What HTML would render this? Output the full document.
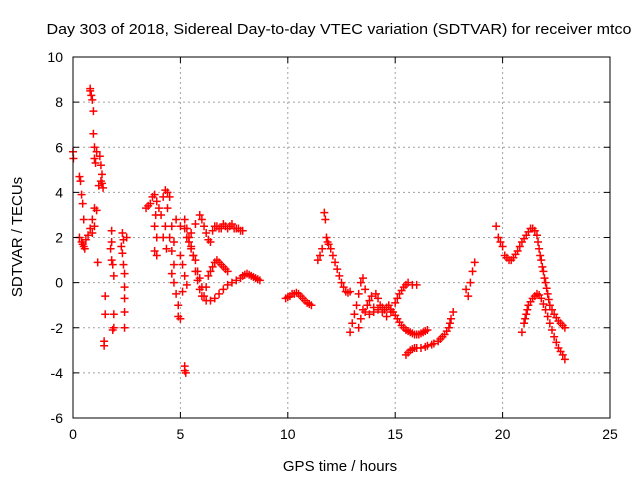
<!DOCTYPE html>
<html><head><meta charset="utf-8"><style>
body{margin:0;background:#fff}
svg{display:block;font-family:"Liberation Sans",sans-serif}
</style></head><body>
<svg id="c" width="640" height="480">
<g id="grid"></g>
<g id="marks"></g>
<rect x="73" y="57" width="537" height="361" fill="none" stroke="#000" stroke-width="1"/>
<g id="ticks"></g>
<text x="339" y="34" text-anchor="middle" font-size="15" textLength="585" lengthAdjust="spacingAndGlyphs">Day 303 of 2018, Sidereal Day-to-day VTEC variation (SDTVAR) for receiver mtco</text>
<text x="340" y="471" text-anchor="middle" font-size="15">GPS time / hours</text>
<text transform="translate(22,237) rotate(-90)" text-anchor="middle" font-size="15">SDTVAR / TECUs</text>
</svg>
<script>
const xTicks=[0,5,10,15,20,25];
const yTicks=[-6,-4,-2,0,2,4,6,8,10];
const early=[[0,5.8],[0.02,5.5],[0.3,4.7],[0.35,4.5],[0.4,3.9],[0.45,3.5],[0.5,2.8],[0.3,2.0],[0.4,1.8],[0.5,1.6],[0.6,1.9],[0.7,2.1],[0.8,2.4],[0.9,2.8],[1.0,3.3],[1.1,3.2],[1.0,2.5],[0.9,2.2],[0.45,1.7],[0.55,1.5],[0.8,8.5],[0.85,8.3],[0.9,8.1],[0.8,8.6],[0.95,7.6],[0.95,6.6],[1.0,6.0],[1.0,5.5],[1.05,5.3],[1.1,5.8],[1.25,5.6],[1.3,5.2],[1.35,4.8],[1.3,4.5],[1.4,4.2],[1.35,4.4],[1.2,4.3],[1.15,0.9],[1.5,-0.6],[1.5,-1.4],[1.45,-2.6],[1.45,-2.8],[1.8,1.8],[1.75,1.5],[1.8,1.0],[1.85,0.8],[1.8,2.3],[1.9,0.3],[1.9,-1.4],[1.85,-2.1],[1.9,-2.0],[2.3,2.2],[2.25,1.6],[2.3,1.3],[2.35,0.8],[2.4,0.4],[2.4,-0.2],[2.4,-0.7],[2.4,-1.3],[2.4,-2.0],[2.5,2.0],[2.35,1.9]];
const cluster=[[3.4,3.3],[3.5,3.4],[3.6,3.5],[3.7,3.8],[3.8,3.9],[3.9,3.6],[4.0,3.3],[3.8,2.5],[3.85,3.0],[3.9,2.0],[3.8,1.4],[3.9,1.2],[4.1,3.0],[4.2,3.8],[4.3,4.1],[4.4,4.0],[4.5,3.8],[4.4,3.3],[4.3,2.5],[4.2,2.0],[4.35,1.5],[4.6,2.5],[4.5,2.0],[4.6,1.4],[4.7,0.8],[4.6,0.4],[4.7,0.0],[4.8,-0.5],[4.9,-1.0],[5.0,-1.6],[4.9,-1.5],[5.1,0.8],[5.2,0.3],[5.3,-0.1],[4.8,2.8],[5.1,-0.4],[4.7,1.8],[5.0,1.2],[5.2,-3.7],[5.2,-3.9],[5.25,-4.0]];
const loopA=[[5.0,2.5],[5.2,2.4],[5.5,2.2],[5.7,2.6],[5.9,3.0],[6.0,2.8],[6.1,2.5],[6.2,2.2],[6.3,1.9],[6.4,1.8],[6.5,2.3],[6.6,2.5],[6.7,2.5],[6.8,2.4],[6.9,2.4],[7.0,2.6],[7.1,2.5],[7.2,2.4],[7.3,2.5],[7.4,2.6],[7.5,2.4],[7.6,2.4],[7.7,2.4],[7.8,2.3],[7.9,2.3]];
const loopB=[[5.3,2.0],[5.4,1.8],[5.5,1.5],[5.6,1.2],[5.7,1.0],[5.8,0.5],[5.9,0.2],[6.0,-0.2],[6.1,-0.6],[6.2,-0.2],[6.3,0.3],[6.4,0.5],[6.5,0.7],[6.6,0.9],[6.7,1.0],[6.8,0.9],[6.9,0.8],[7.0,0.7],[7.1,0.6],[7.2,0.5]];
const loopC=[[5.2,2.8],[5.3,2.4],[5.4,2.0],[5.5,1.6],[5.6,1.2],[5.7,0.5],[5.8,0.1],[5.9,-0.3],[6.0,-0.6],[6.2,-0.8],[6.4,-0.8],[6.6,-0.7],[6.8,-0.5],[7.0,-0.3],[7.2,-0.1],[7.4,0.0],[7.6,0.1],[7.8,0.2],[7.9,0.3],[8.0,0.35],[8.1,0.4],[8.2,0.35],[8.3,0.3],[8.4,0.25],[8.5,0.2],[8.6,0.15],[8.7,0.1]];
const midA=[[9.9,-0.7],[10.0,-0.65],[10.1,-0.6],[10.2,-0.5],[10.3,-0.5],[10.4,-0.45],[10.5,-0.5],[10.6,-0.6],[10.7,-0.7],[10.8,-0.8],[10.9,-0.9],[11.0,-0.95],[11.1,-1.0],[11.4,1.0],[11.5,1.2],[11.6,1.5],[11.7,3.1],[11.75,2.8],[11.8,2.0],[11.85,1.8],[11.9,1.7],[12.0,1.5],[12.1,1.2],[12.2,0.9],[12.3,0.6],[12.4,0.3],[12.5,0.0],[12.6,-0.2],[12.7,-0.4],[12.8,-0.45],[12.9,-0.4]];
const midB=[[12.9,-2.2],[13.0,-1.8],[13.1,-1.4],[13.2,-1.0],[13.3,-0.5],[13.4,0.0],[13.5,0.2],[13.6,-0.3],[13.5,-1.2],[13.4,-1.6],[13.3,-2.0],[13.6,-1.3],[13.7,-1.0],[13.8,-0.8],[13.9,-0.6],[14.0,-1.1],[14.1,-0.5],[14.2,-0.7],[14.3,-1.0],[14.4,-1.1],[14.5,-1.2],[14.6,-1.1],[14.7,-1.0],[14.8,-1.2],[14.9,-1.3],[15.0,-1.45],[15.1,-1.6],[15.2,-1.75],[15.3,-1.9],[15.4,-2.0],[15.5,-2.1],[15.6,-2.15],[15.7,-2.2],[15.8,-2.25],[15.9,-2.3],[16.0,-2.3],[16.1,-2.3],[16.2,-2.25],[16.3,-2.2],[16.4,-2.15],[16.5,-2.1],[13.8,-1.4],[14.0,-1.3],[14.2,-1.2],[14.4,-1.3],[14.6,-1.5],[14.8,-1.3],[15.0,-0.9],[15.1,-0.7],[15.2,-0.5],[15.3,-0.35],[15.4,-0.2],[15.5,-0.1],[15.6,0.0],[15.8,-0.1],[16.0,-0.1]];
const lateA=[[15.5,-3.2],[15.6,-3.1],[15.7,-3.0],[15.8,-2.95],[15.9,-2.9],[16.0,-2.9],[16.2,-2.9],[16.4,-2.85],[16.5,-2.8],[16.7,-2.75],[16.8,-2.7],[17.0,-2.6],[17.1,-2.5],[17.2,-2.4],[17.3,-2.3],[17.4,-2.15],[17.5,-2.0],[17.55,-1.8],[17.6,-1.6],[17.7,-1.3],[18.3,-0.3],[18.4,-0.6],[18.5,0.0],[18.6,0.5],[18.7,0.9]];
const lateB=[[19.7,2.5],[19.8,2.0],[19.9,1.8],[20.0,1.6],[20.1,1.2],[20.2,1.1],[20.3,1.0],[20.4,1.0],[20.5,1.1],[20.6,1.25],[20.7,1.4],[20.8,1.6],[20.9,1.8],[21.0,1.95],[21.1,2.1],[21.2,2.25],[21.3,2.4],[21.4,2.4],[21.5,2.3],[21.6,2.1],[21.65,1.8],[21.7,1.5],[21.75,1.2],[21.8,1.0],[21.85,0.7],[21.9,0.5],[21.95,0.2],[22.0,0.0],[22.05,-0.25],[22.1,-0.5],[22.15,-0.75],[22.2,-1.0],[22.3,-1.2],[22.4,-1.4],[22.5,-1.55],[22.6,-1.7],[22.7,-1.8],[22.8,-1.9],[22.9,-2.0]];
const lateC=[[20.9,-2.2],[21.0,-1.8],[21.05,-1.6],[21.1,-1.4],[21.15,-1.2],[21.2,-1.0],[21.3,-0.85],[21.4,-0.7],[21.5,-0.6],[21.6,-0.5],[21.7,-0.55],[21.8,-0.7],[21.9,-0.95],[22.0,-1.2],[22.1,-1.5],[22.2,-1.8],[22.3,-2.1],[22.4,-2.4],[22.5,-2.65],[22.6,-2.9],[22.7,-3.05],[22.8,-3.2],[22.9,-3.4]];
const series=[early,cluster,loopA,loopB,loopC,midA,midB,lateA,lateB,lateC];
const X0=73,X1=610,Y0=418,Y1=57,xMin=0,xMax=25,yMin=-6,yMax=10;
const sx=v=>X0+(v-xMin)/(xMax-xMin)*(X1-X0);
const sy=v=>Y0-(v-yMin)/(yMax-yMin)*(Y0-Y1);
const NS='http://www.w3.org/2000/svg';
function mk(tag,parent,attrs){const e=document.createElementNS(NS,tag);for(const k in attrs)e.setAttribute(k,attrs[k]);parent.appendChild(e);return e;}
const grid=document.getElementById('grid'),ticks=document.getElementById('ticks'),marks=document.getElementById('marks');
xTicks.forEach(t=>{const x=sx(t);
 if(t>xMin&&t<xMax){const g=mk('line',grid,{x1:x,x2:x,y1:Y1,y2:Y0,stroke:'#a0a0a0','stroke-dasharray':'2,3'});}
 mk('line',ticks,{x1:x,x2:x,y1:Y0,y2:Y0-6,stroke:'#000'});mk('line',ticks,{x1:x,x2:x,y1:Y1,y2:Y1+6,stroke:'#000'});
 const l=mk('text',ticks,{x:x,y:Y0+21,'text-anchor':'middle','font-size':'14'});l.textContent=t;
 
 });
yTicks.forEach(t=>{const y=sy(t);
 if(t>yMin&&t<yMax){const g=mk('line',grid,{x1:X0,x2:X1,y1:y,y2:y,stroke:'#a0a0a0','stroke-dasharray':'2,3'});}
 mk('line',ticks,{x1:X0,x2:X0+6,y1:y,y2:y,stroke:'#000'});mk('line',ticks,{x1:X1,x2:X1-6,y1:y,y2:y,stroke:'#000'});
 const l=mk('text',ticks,{x:X0-10,y:y+5,'text-anchor':'end','font-size':'14'});l.textContent=t;
 
 });
series.forEach(s=>s.forEach(p=>{const x=sx(p[0]),y=sy(p[1]);
 const e=mk('path',marks,{d:`M${x-4},${y}h8M${x},${y-4}v8`,stroke:'#ff0000','stroke-width':'1.5',fill:'none'});
 
 }));
</script>
</body></html>
